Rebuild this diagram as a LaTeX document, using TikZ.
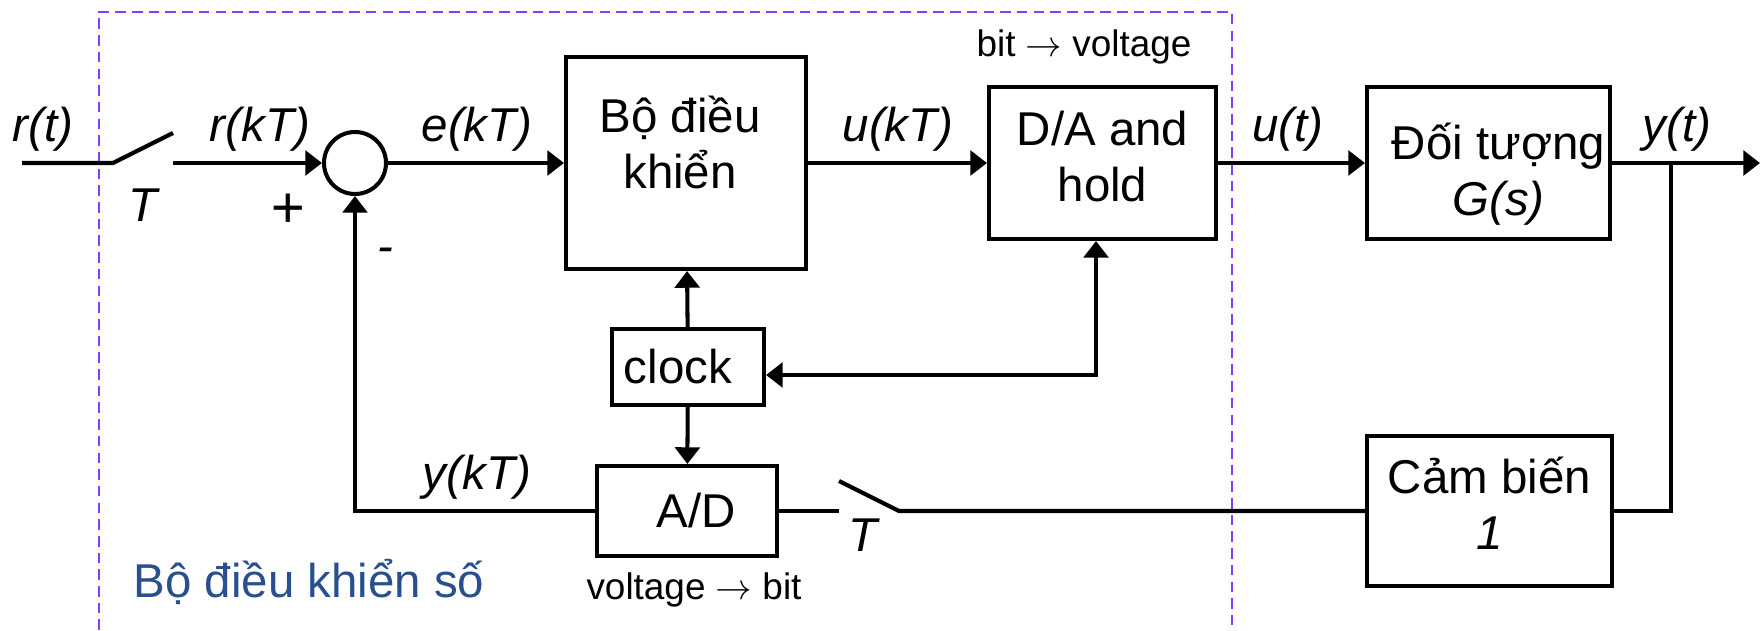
\documentclass[tikz,border=0pt]{standalone}
\usepackage{fontspec}
\setmainfont{Liberation Sans}
\usepackage{xcolor}
\usetikzlibrary{arrows.meta}

\definecolor{framevio}{RGB}{127,63,255}
\definecolor{titleblue}{RGB}{41,80,140}

\begin{document}
\begin{tikzpicture}[x=1cm, y=1cm, line width=2.3pt,
    blk/.style={draw, rectangle, inner sep=0pt, align=center,
                font=\fontsize{27}{32}\selectfont},
    blktxt/.style={inner sep=0pt, align=center, font=\fontsize{27}{32}\selectfont},
    lbl/.style={font=\fontsize{27}{32}\selectfont\itshape},
    note/.style={font=\fontsize{21}{25}\selectfont},
    sig/.style={-{Triangle[length=9.5pt,width=14pt]}},
    sigboth/.style={{Triangle[length=9.5pt,width=14pt]}-{Triangle[length=9.5pt,width=14pt]}},
  ]

  \useasboundingbox (0,0) rectangle (35.22,12.6);

  % -- digital controller frame (open at the bottom) ------------------------
  \draw[framevio, line width=1.2pt, dash pattern=on 6pt off 3.5pt]
    (1.98,0) -- (1.98,12.36) -- (24.64,12.36) -- (24.64,0);
  \node[font=\fontsize{27}{32}\selectfont, text=titleblue] (ltitle) at (6.18,0.96) {Bộ điều khiển số};

  % -- blocks ---------------------------------------------------------------
  \node[draw, circle, minimum size=1.24cm, inner sep=0pt] (sum) at (7.10,9.34) {};
  \node[blk, minimum width=4.8cm, minimum height=4.24cm] (ctrl) at (13.72,9.34) {};
  \node[blk, minimum width=4.54cm, minimum height=3.04cm] (da) at (22.05,9.34) {};
  \node[blk, minimum width=4.86cm, minimum height=3.04cm] (plant) at (29.77,9.34) {};
  \node[blk, minimum width=4.9cm, minimum height=3.0cm] (sensor) at (29.79,2.38) {};
  \node[blk, minimum width=3.04cm, minimum height=1.52cm] (clock) at (13.76,5.26) {};
  \node[blk, minimum width=3.6cm, minimum height=1.8cm] (ad) at (13.74,2.38) {};

  % block texts, nudged as in the drawing
  \node[blktxt] (ctrltxt) at (13.6,9.75) {Bộ điều\\khiển};
  \node[blktxt, yshift=0.13cm] (datxt) at (da) {D/A and\\hold};
  \node[blktxt, xshift=0.2cm, yshift=-0.22cm] (planttxt) at (plant) {Đối tượng\\\textit{G(s)}};
  \node[blktxt, yshift=0.15cm] (sensortxt) at (sensor) {Cảm biến\\\textit{1}};
  \node[blktxt, xshift=-0.2cm] (clocktxt) at (clock) {clock};
  \node[blktxt, xshift=0.18cm] (adtxt) at (ad) {A/D};

  % -- forward path with input sampler ---------------------------------------
  \coordinate (rin) at (0.44,9.34);
  \coordinate (sw1a) at (2.26,9.34);
  \coordinate (sw1b) at (3.46,9.94);
  \coordinate (sw1c) at (3.46,9.34);
  \draw (rin) -- (sw1a) -- (sw1b);
  \draw[sig] (sw1c) -- (sum);
  \draw[sig] (sum) -- (ctrl);
  \draw[sig] (ctrl) -- (da);
  \draw[sig] (da) -- (plant);
  \coordinate (yout) at (35.2,9.34);
  \draw[sig] (plant) -- (yout);

  % -- feedback through sensor, sampler and A/D ------------------------------
  \coordinate (tap) at (33.42,9.34);
  \draw (tap) |- (sensor);
  \coordinate (sw2a) at (16.78,2.38);
  \coordinate (sw2b) at (16.78,2.98);
  \coordinate (sw2c) at (17.98,2.38);
  \draw (sensor) -- (sw2c) -- (sw2b);
  \draw (sw2a) -- (ad);
  \draw[sig] (ad) -| (sum);

  % -- clock lines -------------------------------------------------------------
  \draw[sig] (clock) -- (ctrl);
  \draw[sig] (clock) -- (ad);
  \coordinate (clk) at (21.92,5.10);
  \draw[sigboth] (clock.east |- clk) -- (clk) -- (clk |- da.south);

  % -- labels ----------------------------------------------------------------
  \node[lbl] (lrt) at (0.86,10.02) {r(t)};
  \node[lbl] (lT1) at (2.86,8.5) {T};
  \node[lbl] (lrkT) at (5.2,10.02) {r(kT)};
  \node[lbl, font=\fontsize{33}{38}\selectfont\itshape] (lplus) at (5.74,8.38) {+};
  \node[lbl] (lminus) at (7.7,7.5) {-};
  \node[lbl] (lekT) at (9.54,10.02) {e(kT)};
  \node[lbl] (lukT) at (17.96,10.02) {u(kT)};
  \node[note] (lbv) at (21.68,11.66) {bit $\rightarrow$ voltage};
  \node[lbl] (lut) at (25.76,10.02) {u(t)};
  \node[lbl] (lyt) at (33.54,10.02) {y(t)};
  \node[lbl] (lykT) at (9.54,3.06) {y(kT)};
  \node[lbl] (lT2) at (17.26,1.9) {T};
  \node[note] (lvb) at (13.88,0.8) {voltage $\rightarrow$ bit};

\end{tikzpicture}
\end{document}
